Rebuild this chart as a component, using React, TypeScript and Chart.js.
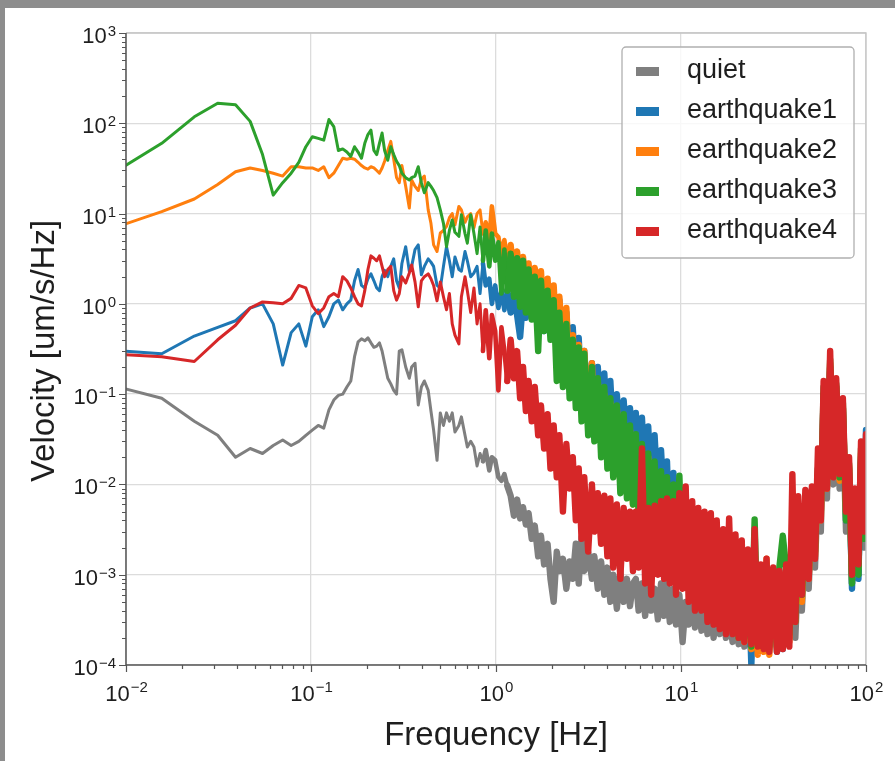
import React, { useEffect, useRef } from "react";
import { Chart, registerables } from "chart.js";

Chart.register(...registerables);

// ---------------- data ----------------
const FREQ_HZ = [
  0.0078, 0.0156, 0.0234, 0.0313, 0.0391, 0.0469, 0.0547, 0.0625, 0.0703, 0.0781,
  0.0859, 0.0938, 0.1016, 0.1094, 0.1172, 0.125, 0.1328, 0.1406, 0.1484, 0.1563,
  0.1641, 0.1719, 0.1797, 0.1875, 0.1953, 0.2031, 0.2109, 0.2188, 0.2266, 0.2344, 0.2422, 0.25,
  0.26, 0.27, 0.28, 0.29, 0.3, 0.31, 0.325, 0.34, 0.35, 0.365,
  0.38, 0.395, 0.41, 0.43, 0.445, 0.46, 0.48, 0.5, 0.52, 0.54,
  0.56, 0.58, 0.6, 0.63, 0.65, 0.68, 0.7, 0.73, 0.76, 0.79,
  0.82, 0.85, 0.88, 0.92, 0.95, 0.99, 1.03, 1.07, 1.11, 1.15,
  1.2, 1.25, 1.3, 1.35, 1.4, 1.45, 1.5, 1.56, 1.62, 1.69,
  1.75, 1.82, 1.9, 1.97, 2.05, 2.13, 2.2, 2.3, 2.4, 2.5,
  2.6, 2.7, 2.8, 2.9, 3.0, 3.15, 3.3, 3.4, 3.55, 3.7,
  3.85, 4.0, 4.15, 4.3, 4.5, 4.7, 4.9, 5.1, 5.3, 5.5,
  5.7, 5.9, 6.15, 6.4, 6.65, 6.9, 7.2, 7.5, 7.8, 8.1,
  8.4, 8.7, 9.1, 9.4, 9.8, 10.2, 10.6, 11, 11.5, 11.9,
  12.4, 12.9, 13.4, 13.9, 14.5, 15, 15.6, 16.2, 16.9, 17.5,
  18.2, 19, 19.7, 20.5, 21.3, 22, 23, 24, 25, 26,
  27, 28, 29, 30, 31.5, 33, 34, 35.5, 37, 38.5,
  40, 41.5, 43, 45, 47, 49, 51, 53, 55, 57,
  59, 61.5, 64, 66.5, 69, 72, 75, 78, 81, 84,
  87, 91, 94, 98, 100,
];

const QUIET = [
  0.13, 0.09, 0.05, 0.035, 0.02, 0.025, 0.022, 0.027, 0.031, 0.027,
  0.03, 0.035, 0.04, 0.045, 0.042, 0.067, 0.086, 0.097, 0.1, 0.12,
  0.14, 0.26, 0.38, 0.41, 0.39, 0.42, 0.37, 0.33, 0.34, 0.37, 0.3, 0.22,
  0.15, 0.13, 0.11, 0.1, 0.3, 0.31, 0.2, 0.15, 0.2, 0.22,
  0.076, 0.12, 0.14, 0.11, 0.065, 0.04, 0.0185, 0.062, 0.045, 0.062,
  0.05, 0.062, 0.038, 0.045, 0.056, 0.035, 0.026, 0.03, 0.026, 0.016,
  0.022, 0.018, 0.024, 0.0143, 0.02, 0.0185, 0.012, 0.011, 0.013, 0.0097,
  0.0075, 0.0045, 0.0068, 0.0042, 0.0056, 0.0036, 0.0048, 0.0025, 0.0035, 0.0016,
  0.0027, 0.0013, 0.0022, 0.0009, 0.0005, 0.0018, 0.0011, 0.0015, 0.0007, 0.0014,
  0.0009, 0.0022, 0.0008, 0.0026, 0.0011, 0.0018, 0.0009, 0.0016, 0.0007, 0.0014,
  0.0006, 0.0012, 0.0005, 0.001, 0.00042, 0.0011, 0.0005, 0.0009, 0.00045, 0.0008,
  0.0009, 0.0004, 0.0008, 0.00035, 0.0009, 0.0004, 0.0007, 0.00032, 0.0008, 0.00035,
  0.0008, 0.0003, 0.0007, 0.00028, 0.0006, 0.00018, 0.0005, 0.00028, 0.0006, 0.00026,
  0.0005, 0.00024, 0.0005, 0.00022, 0.00045, 0.0002, 0.0004, 0.00022, 0.0004, 0.0002,
  0.00035, 0.00018, 0.00035, 0.00017, 0.0003, 0.00016, 0.0003, 0.00014, 0.0003, 0.00016,
  0.0003, 0.00016, 0.00032, 0.00017, 0.00035, 0.00018, 0.0004, 0.00022, 0.0005, 0.0003,
  0.0008, 0.0002, 0.0012, 0.0004, 0.0025, 0.0007, 0.005, 0.0012, 0.01, 0.003,
  0.08, 0.007, 0.18, 0.01, 0.1, 0.009, 0.05, 0.003, 0.012, 0.0008,
  0.005, 0.001, 0.018, 0.002, 0.025,
];

const EQ1 = [
  0.31, 0.28, 0.44, 0.55, 0.65, 0.9, 1.0, 0.6, 0.21, 0.48,
  0.6, 0.34, 0.72, 0.86, 0.56, 0.72, 1.0, 1.1, 0.86, 1.0,
  1.1, 1.8, 2.4, 1.6, 1.5, 1.9, 2.15, 1.8, 1.5, 1.4, 2.0, 2.35,
  2.0, 2.6, 3.15, 1.8, 1.5, 2.8, 4.3, 2.3, 2.6, 4.0,
  4.5, 2.1, 2.6, 3.15, 2.9, 2.6, 1.6, 1.5, 2.6, 4.3,
  3.0, 2.0, 3.3, 2.4, 2.3, 3.8, 3.0, 2.0, 2.2, 2.6,
  1.3, 2.8, 1.6, 1.9, 1.0, 1.6, 0.9, 1.4, 0.85, 1.4,
  0.8, 1.3, 0.75, 0.43, 1.1, 0.7, 1.2, 0.86, 1.1, 0.6,
  1.0, 0.5, 1.1, 0.6, 1.3, 0.45, 1.1, 0.3, 0.8, 0.15,
  0.55, 0.12, 0.42, 0.09, 0.3, 0.06, 0.22, 0.07, 0.2, 0.05,
  0.17, 0.04, 0.14, 0.035, 0.1, 0.03, 0.085, 0.025, 0.07, 0.02,
  0.062, 0.015, 0.055, 0.012, 0.044, 0.009, 0.035, 0.007, 0.024, 0.006,
  0.018, 0.002, 0.0134, 0.0015, 0.009, 0.001, 0.005, 0.0008, 0.004, 0.0006,
  0.003, 0.0005, 0.0035, 0.0004, 0.003, 0.00035, 0.0025, 0.0003, 0.0025, 0.00028,
  0.002, 0.00025, 0.002, 0.00022, 0.0018, 0.0002, 0.0015, 0.0001, 0.0015, 0.00015,
  0.0012, 0.00016, 0.0012, 0.00015, 0.001, 0.00014, 0.001, 0.00015, 0.0012, 0.0002,
  0.0015, 0.0004, 0.002, 0.0007, 0.004, 0.0012, 0.007, 0.002, 0.015, 0.005,
  0.1, 0.012, 0.2, 0.015, 0.12, 0.012, 0.07, 0.004, 0.015, 0.0007,
  0.006, 0.0009, 0.02, 0.0028, 0.04,
];

const EQ2 = [
  6.5, 10.5, 14.5, 21, 29, 32, 30, 28, 26, 33,
  33, 32, 32, 30, 33, 25, 28, 34, 41, 40,
  41, 40, 37, 34, 32, 31, 33, 32, 30, 28, 32, 38,
  50, 63, 40, 25, 22, 34, 20, 11.5, 23.5, 20,
  18, 24, 26, 11, 7.8, 4.5, 3.8, 6.1, 6.5, 7.2,
  9, 10, 7.5, 12, 11, 8, 9.2, 10, 7, 10,
  11, 6, 8, 5, 12, 6, 5.5, 3.5, 5.1, 3.0,
  4.5, 2.0, 3.8, 1.5, 3.3, 1.2, 2.8, 1.0, 2.5, 0.8,
  2.3, 0.6, 1.9, 0.5, 1.6, 0.35, 1.2, 0.3, 0.9, 0.15,
  0.45, 0.09, 0.35, 0.07, 0.3, 0.05, 0.22, 0.04, 0.14, 0.03,
  0.1, 0.02, 0.08, 0.015, 0.07, 0.01, 0.05, 0.008, 0.04, 0.006,
  0.03, 0.005, 0.024, 0.004, 0.02, 0.003, 0.015, 0.0025, 0.012, 0.002,
  0.01, 0.0017, 0.008, 0.0012, 0.006, 0.0009, 0.005, 0.0008, 0.004, 0.0007,
  0.003, 0.0005, 0.0028, 0.0004, 0.0025, 0.00035, 0.0022, 0.0003, 0.002, 0.00028,
  0.0019, 0.00024, 0.0017, 0.0002, 0.0015, 0.00018, 0.0014, 0.00015, 0.0013, 0.00013,
  0.0012, 0.00014, 0.0015, 0.00013, 0.001, 0.00015, 0.001, 0.00016, 0.0011, 0.00018,
  0.0014, 0.0003, 0.002, 0.0005, 0.0035, 0.0009, 0.006, 0.0016, 0.013, 0.004,
  0.1, 0.009, 0.22, 0.013, 0.12, 0.011, 0.07, 0.0045, 0.016, 0.0009,
  0.007, 0.0012, 0.022, 0.003, 0.03,
];

const EQ3 = [
  25, 60, 118, 167, 160, 105, 45, 16, 22, 28,
  37, 55, 71, 68, 65, 110, 92, 50, 52, 48,
  43, 55, 48, 41, 60, 75, 84, 50, 45, 60, 78, 50,
  39, 55, 45, 38, 34, 28, 25, 23.5, 25, 26,
  33, 22, 17, 22, 20, 18, 15, 11, 7.8, 4.3,
  6.5, 8.5, 6.2, 5.6, 9.7, 6.0, 4.7, 9.7, 6.0, 3.6,
  7.1, 3.0, 6.5, 2.6, 6.0, 3.0, 4.8, 1.3, 4.0, 1.4,
  3.6, 1.2, 3.2, 0.93, 3.0, 0.8, 2.4, 0.67, 2.0, 0.3,
  1.8, 0.5, 1.4, 0.4, 1.1, 0.14, 0.8, 0.12, 0.6, 0.09,
  0.4, 0.07, 0.33, 0.05, 0.28, 0.035, 0.2, 0.03, 0.15, 0.02,
  0.12, 0.015, 0.09, 0.012, 0.075, 0.008, 0.06, 0.007, 0.045, 0.006,
  0.036, 0.005, 0.028, 0.004, 0.022, 0.0032, 0.018, 0.0028, 0.014, 0.0025,
  0.012, 0.002, 0.01, 0.0015, 0.0125, 0.0011, 0.006, 0.0009, 0.004, 0.0008,
  0.003, 0.0007, 0.0028, 0.0005, 0.0025, 0.0004, 0.0022, 0.0003, 0.0022, 0.0003,
  0.002, 0.00025, 0.0018, 0.0002, 0.0016, 0.0002, 0.0014, 0.00016, 0.0041, 0.0002,
  0.0012, 0.00017, 0.0012, 0.00016, 0.0011, 0.00016, 0.0012, 0.0027, 0.0012, 0.00022,
  0.0015, 0.0003, 0.002, 0.0006, 0.004, 0.001, 0.007, 0.0018, 0.015, 0.005,
  0.12, 0.01, 0.24, 0.014, 0.13, 0.012, 0.08, 0.004, 0.017, 0.0008,
  0.007, 0.001, 0.025, 0.0025, 0.03,
];

const EQ4 = [
  0.28, 0.26, 0.23, 0.4, 0.58, 0.9, 1.05, 1.03, 1.0, 1.15,
  1.6, 1.5, 0.95, 0.78, 0.9, 1.2, 1.3, 1.2, 2.0, 1.8,
  1.5, 1.2, 1.0, 0.95, 1.4, 2.4, 3.4, 3.2, 3.0, 3.4, 2.6, 2.0,
  2.4, 2.6, 1.4, 1.1, 1.3, 2.0, 1.7, 2.2, 2.7, 1.75,
  0.93, 1.8, 2.0, 2.15, 1.9, 1.6, 1.08, 1.75, 1.2, 0.86,
  1.3, 0.6, 0.45, 0.36, 1.2, 2.0, 1.4, 0.8, 1.5, 0.6,
  1.0, 0.3, 0.85, 0.25, 0.75, 0.5, 0.11, 0.55, 0.3, 0.14,
  0.4, 0.15, 0.3, 0.09, 0.2, 0.065, 0.14, 0.05, 0.12, 0.035,
  0.075, 0.025, 0.06, 0.015, 0.045, 0.012, 0.035, 0.005, 0.028, 0.009,
  0.02, 0.004, 0.015, 0.0025, 0.012, 0.0018, 0.01, 0.003, 0.008, 0.0022,
  0.0075, 0.0016, 0.007, 0.0012, 0.006, 0.0009, 0.0055, 0.0015, 0.005, 0.0011,
  0.005, 0.0012, 0.025, 0.0008, 0.0055, 0.0006, 0.0058, 0.001, 0.0065, 0.0009,
  0.007, 0.0008, 0.0065, 0.0006, 0.008, 0.0007, 0.0095, 0.0005, 0.0065, 0.0004,
  0.0055, 0.0004, 0.005, 0.0003, 0.0048, 0.00028, 0.004, 0.00025, 0.0032, 0.00022,
  0.0042, 0.00022, 0.0028, 0.0002, 0.0024, 0.00018, 0.0019, 0.00017, 0.0032, 0.00016,
  0.0013, 0.00015, 0.0015, 0.00014, 0.0012, 0.00014, 0.0011, 0.00015, 0.0013, 0.00016,
  0.013, 0.0003, 0.0074, 0.0006, 0.0087, 0.0009, 0.0095, 0.0015, 0.025, 0.004,
  0.14, 0.009, 0.3, 0.012, 0.15, 0.013, 0.09, 0.005, 0.02, 0.001,
  0.009, 0.0013, 0.03, 0.003, 0.036,
];

const SERIES_NAMES = ["quiet", "earthquake1", "earthquake2", "earthquake3", "earthquake4"];
const SERIES_VALUES = [QUIET, EQ1, EQ2, EQ3, EQ4];
const SERIES_COLORS = ["#7f7f7f", "#1f77b4", "#ff7f0e", "#2ca02c", "#d62728"];

const X_TICK_VALUES = [0.01, 0.1, 1, 10, 100];
const X_TICK_EXPONENTS = ["\u22122", "\u22121", "0", "1", "2"];
const Y_TICK_VALUES = [1e-4, 1e-3, 1e-2, 1e-1, 1, 10, 100, 1000];
const Y_TICK_EXPONENTS = ["\u22124", "\u22123", "\u22122", "\u22121", "0", "1", "2", "3"];
const MINOR_MULTIPLES = [2, 3, 4, 5, 6, 7, 8, 9];

const X_TITLE = "Frequency [Hz]";
const Y_TITLE = "Velocity [um/s/Hz]";

// the spectra become dense noise bands at higher frequency: draw those parts thicker
const SEMI_DENSE_FROM_HZ = 0.85;
const DENSE_FROM_HZ = 1.15;

// ---------------- styling ----------------
const FONT = "'Liberation Sans', Arial, Helvetica, sans-serif";
const TEXT_COLOR = "#1e1e1e";

const decorPlugin = {
  id: "decor",
  afterDraw(chart: any) {
    const { ctx, chartArea: a, scales } = chart;
    const xs = scales.x;
    const ys = scales.y;
    ctx.save();

    // spines
    ctx.lineCap = "butt";
    ctx.strokeStyle = "#c4c4c4";
    ctx.lineWidth = 1.3;
    ctx.beginPath();
    ctx.moveTo(a.left, a.top);
    ctx.lineTo(a.right, a.top);
    ctx.lineTo(a.right, a.bottom);
    ctx.stroke();
    ctx.strokeStyle = "#555555";
    ctx.lineWidth = 1.5;
    ctx.beginPath();
    ctx.moveTo(a.left, a.top);
    ctx.lineTo(a.left, a.bottom);
    ctx.lineTo(a.right, a.bottom);
    ctx.stroke();

    // tick marks
    ctx.strokeStyle = "#555555";
    ctx.lineWidth = 1.2;
    ctx.beginPath();
    X_TICK_VALUES.forEach((v) => {
      const px = Math.round(xs.getPixelForValue(v)) + 0.5;
      ctx.moveTo(px, a.bottom);
      ctx.lineTo(px, a.bottom + 7);
      if (v < X_TICK_VALUES[X_TICK_VALUES.length - 1]) {
        MINOR_MULTIPLES.forEach((m) => {
          const mx = Math.round(xs.getPixelForValue(v * m)) + 0.5;
          ctx.moveTo(mx, a.bottom);
          ctx.lineTo(mx, a.bottom + 4);
        });
      }
    });
    Y_TICK_VALUES.forEach((v) => {
      const py = Math.round(ys.getPixelForValue(v)) + 0.5;
      ctx.moveTo(a.left, py);
      ctx.lineTo(a.left - 7, py);
      if (v < Y_TICK_VALUES[Y_TICK_VALUES.length - 1]) {
        MINOR_MULTIPLES.forEach((m) => {
          const my = Math.round(ys.getPixelForValue(v * m)) + 0.5;
          ctx.moveTo(a.left, my);
          ctx.lineTo(a.left - 4, my);
        });
      }
    });
    ctx.stroke();

    // tick labels: 10 with superscript exponent
    const baseFont = `22px ${FONT}`;
    const expFont = `15px ${FONT}`;
    ctx.fillStyle = TEXT_COLOR;
    ctx.textBaseline = "alphabetic";
    ctx.textAlign = "left";
    const measure = (exp: string) => {
      ctx.font = baseFont;
      const wb = ctx.measureText("10").width;
      ctx.font = expFont;
      const we = ctx.measureText(exp).width;
      return [wb, we];
    };
    X_TICK_VALUES.forEach((v, i) => {
      const exp = X_TICK_EXPONENTS[i];
      const [wb, we] = measure(exp);
      const px = xs.getPixelForValue(v);
      const start = px - (wb + we) / 2;
      ctx.font = baseFont;
      ctx.fillText("10", start, a.bottom + 36);
      ctx.font = expFont;
      ctx.fillText(exp, start + wb + 1, a.bottom + 27);
    });
    Y_TICK_VALUES.forEach((v, i) => {
      const exp = Y_TICK_EXPONENTS[i];
      const [wb, we] = measure(exp);
      const py = ys.getPixelForValue(v);
      const start = a.left - 11 - (wb + we);
      ctx.font = baseFont;
      ctx.fillText("10", start, py + 10);
      ctx.font = expFont;
      ctx.fillText(exp, start + wb + 1, py + 3);
    });

    // axis titles
    ctx.font = `33px ${FONT}`;
    ctx.textAlign = "center";
    ctx.fillText(X_TITLE, (a.left + a.right) / 2, 745);
    ctx.save();
    ctx.translate(54, (a.top + a.bottom) / 2 + 2);
    ctx.rotate(-Math.PI / 2);
    ctx.font = `33px ${FONT}`;
    ctx.fillText(Y_TITLE, 0, 0);
    ctx.restore();

    // legend (upper right, inside axes)
    const lx = 622, ly = 47, lw = 232, lh = 211;
    ctx.beginPath();
    if ((ctx as any).roundRect) (ctx as any).roundRect(lx, ly, lw, lh, 4);
    else ctx.rect(lx, ly, lw, lh);
    ctx.fillStyle = "rgba(255,255,255,0.8)";
    ctx.fill();
    ctx.strokeStyle = "#b0b0b0";
    ctx.lineWidth = 1.3;
    ctx.stroke();
    ctx.font = `27px ${FONT}`;
    ctx.textAlign = "left";
    ctx.textBaseline = "middle";
    SERIES_NAMES.forEach((name, i) => {
      const cy = 71 + 40 * i;
      ctx.fillStyle = SERIES_COLORS[i];
      ctx.fillRect(636, cy - 4, 23, 9);
      ctx.fillStyle = TEXT_COLOR;
      ctx.fillText(name, 687, cy);
    });

    ctx.restore();
  },
};

export default function App() {
  const canvasRef = useRef<HTMLCanvasElement | null>(null);

  useEffect(() => {
    const canvas = canvasRef.current;
    if (!canvas) return;
    const datasets = SERIES_NAMES.map((name, i) => ({
      label: name,
      data: FREQ_HZ.map((f, j) => ({ x: f, y: SERIES_VALUES[i][j] })),
      borderColor: SERIES_COLORS[i],
      backgroundColor: SERIES_COLORS[i],
      borderWidth: 3,
      pointRadius: 0,
      tension: 0,
      fill: false,
      clip: 0,
      borderJoinStyle: "round" as const,
      borderCapStyle: "round" as const,
      segment: {
        borderWidth: (c: any) =>
          c.p0.parsed.x >= DENSE_FROM_HZ ? 6.4 : c.p0.parsed.x >= SEMI_DENSE_FROM_HZ ? 4.6 : undefined,
      },
      order: SERIES_NAMES.length - i,
    }));

    const chart = new Chart(canvas, {
      type: "line",
      data: { datasets },
      options: {
        responsive: false,
        maintainAspectRatio: false,
        devicePixelRatio: 1,
        animation: false,
        events: [],
        layout: { padding: { top: 33, right: 29, left: 0, bottom: 0 } },
        plugins: { legend: { display: false }, tooltip: { enabled: false }, title: { display: false } },
        scales: {
          x: {
            type: "logarithmic",
            min: 0.01,
            max: 100,
            afterBuildTicks: (s: any) => {
              s.ticks = X_TICK_VALUES.map((v) => ({ value: v }));
            },
            afterFit: (s: any) => {
              s.height = 96;
            },
            ticks: { display: false },
            grid: { color: "#dcdcdc", lineWidth: 1.3, drawTicks: false },
            border: { display: false },
          },
          y: {
            type: "logarithmic",
            min: 1e-4,
            max: 1e3,
            afterBuildTicks: (s: any) => {
              s.ticks = Y_TICK_VALUES.map((v) => ({ value: v }));
            },
            afterFit: (s: any) => {
              s.width = 126;
            },
            ticks: { display: false },
            grid: { color: "#dcdcdc", lineWidth: 1.3, drawTicks: false },
            border: { display: false },
          },
        },
      },
      plugins: [decorPlugin],
    } as any);
    return () => chart.destroy();
  }, []);

  return (
    <div
      style={{
        position: "fixed",
        left: 0,
        top: 0,
        width: 895,
        height: 761,
        background: "#8d8d8d",
        overflow: "hidden",
      }}
    >
      <div style={{ position: "absolute", left: 5, top: 8, right: 0, bottom: 0, background: "#ffffff" }} />
      <canvas
        ref={canvasRef}
        width={895}
        height={761}
        style={{ position: "absolute", left: 0, top: 0, width: 895, height: 761 }}
      />
    </div>
  );
}
